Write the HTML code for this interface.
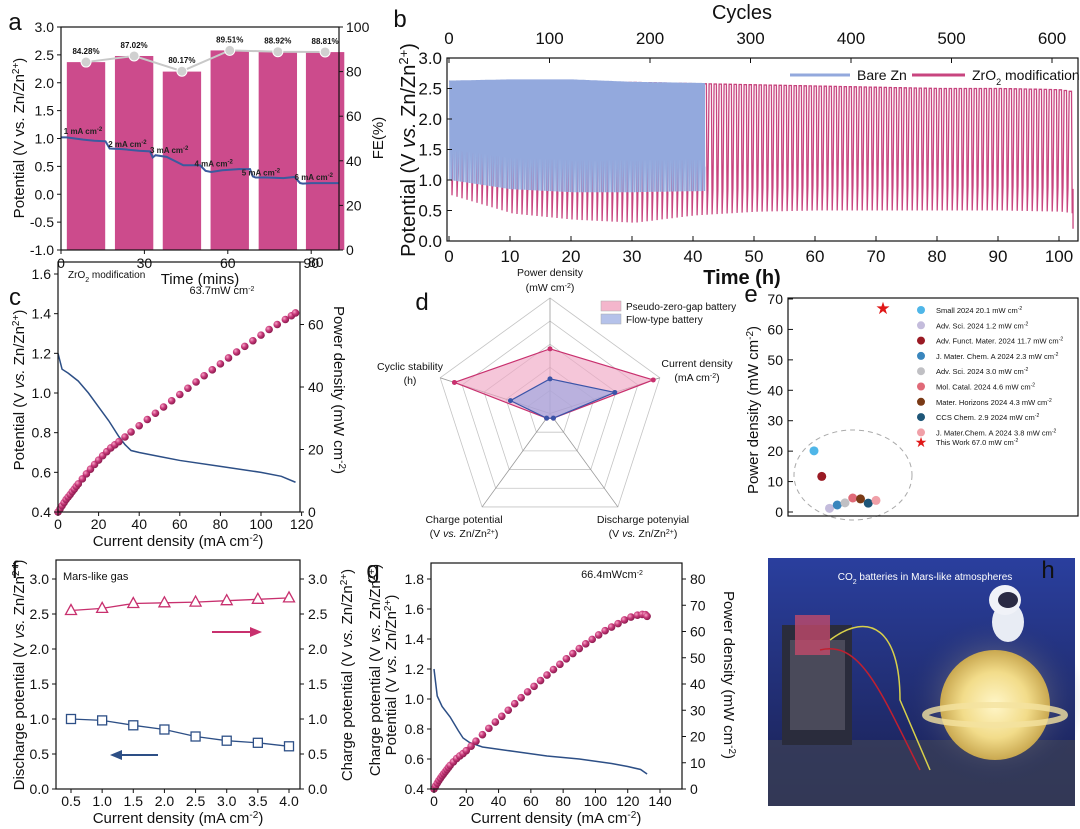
<!DOCTYPE html>
<html><head><meta charset="utf-8"><style>
body{margin:0;background:#fff;}
svg{display:block;font-family:"Liberation Sans",Arial,sans-serif;}
</style></head><body>
<svg id="fig" width="1080" height="829" viewBox="0 0 1080 829" xmlns="http://www.w3.org/2000/svg">
<defs>
<radialGradient id="sph" cx="35%" cy="35%" r="65%"><stop offset="0" stop-color="#f7a6c8"/><stop offset="0.5" stop-color="#c8397a"/><stop offset="1" stop-color="#8e1c50"/></radialGradient>
<radialGradient id="glow" cx="50%" cy="50%" r="50%"><stop offset="0" stop-color="#fff6c8"/><stop offset="0.6" stop-color="#f2dc8a"/><stop offset="1" stop-color="#c9a850"/></radialGradient>
<radialGradient id="halo" cx="50%" cy="50%" r="50%"><stop offset="0" stop-color="#ffe9a0" stop-opacity="0.7"/><stop offset="1" stop-color="#1c2a6a" stop-opacity="0"/></radialGradient>
<linearGradient id="bg" x1="0" y1="0" x2="0" y2="1"><stop offset="0" stop-color="#2a3f9e"/><stop offset="1" stop-color="#1a2050"/></linearGradient>
</defs>
</svg>
<script>
const NS='http://www.w3.org/2000/svg';
const svg=document.getElementById('fig');
function mk(tag,a,p){const e=document.createElementNS(NS,tag);for(const k in a)e.setAttribute(k,a[k]);(p||svg).appendChild(e);return e;}
function tx(s,x,y,size,anchor,p,extra){const e=mk('text',Object.assign({x:x,y:y,'font-size':size,'text-anchor':anchor||'middle',fill:'#111'},extra||{}),p);e.innerHTML=s;return e;}
function lin(d0,d1,r0,r1){return v=>r0+(v-d0)*(r1-r0)/(d1-d0);}

/* ---------- Panel a data ---------- */
const aBarTime=[9,26.3,43.5,60.7,78,95];
const aBarPot=[2.37,2.48,2.2,2.58,2.55,2.55];
const aFE=[84.28,87.02,80.17,89.51,88.92,88.81];
const aFELabels=['84.28%','87.02%','80.17%','89.51%','88.92%','88.81%'];
const aLineT=[0,2,8,12,16,17.5,22,28,32,33,34,38,44,50,52,54,58,64,68,69,70,74,80,84,86,87,90,100];
const aLineV=[1.02,1.02,0.98,0.96,0.95,0.82,0.81,0.78,0.77,0.66,0.70,0.67,0.52,0.52,0.42,0.40,0.43,0.45,0.45,0.32,0.30,0.30,0.29,0.31,0.20,0.19,0.20,0.20];
const aCurLabels=['1 mA cm<tspan baseline-shift="super" font-size="6">-2</tspan>','2 mA cm<tspan baseline-shift="super" font-size="6">-2</tspan>','3 mA cm<tspan baseline-shift="super" font-size="6">-2</tspan>','4 mA cm<tspan baseline-shift="super" font-size="6">-2</tspan>','5 mA cm<tspan baseline-shift="super" font-size="6">-2</tspan>','6 mA cm<tspan baseline-shift="super" font-size="6">-2</tspan>'];
const aCurLabelPos=[[1,1.08],[17,0.85],[32,0.74],[48,0.5],[65,0.34],[84,0.26]];
{
 const g=mk('g',{});
 
 
 const X=lin(0,100,61,339),Y=lin(-1,3,250,27),YR=lin(0,100,250,27);
 aBarTime.forEach((t,i)=>{const b=mk('rect',{x:X(t-6.9),y:Y(aBarPot[i]),width:X(13.8)-X(0),height:Y(-1)-Y(aBarPot[i]),fill:'#cc4b8c'},g);
  
  });
 const pl=mk('path',{d:aLineT.map((t,i)=>(i?'L':'M')+X(t)+','+Y(aLineV[i])).join(''),fill:'none',stroke:'#3b5a9e','stroke-width':2},g);
 
 
 const fl=mk('path',{d:aBarTime.map((t,i)=>(i?'L':'M')+X(t)+','+YR(aFE[i])).join(''),fill:'none',stroke:'#c8c8c8','stroke-width':2},g);
 
 
 aBarTime.forEach((t,i)=>{const c=mk('circle',{cx:X(t),cy:YR(aFE[i]),r:5,fill:'#d0d0d0',stroke:'#fff','stroke-width':1},g);
  
  
  tx(aFELabels[i],X(t),YR(aFE[i])-8,8,'middle',g,{'font-weight':'bold'});});
 aCurLabels.forEach((s,i)=>tx(s,X(aCurLabelPos[i][0]),Y(aCurLabelPos[i][1]),8,'start',g,{'font-weight':'bold',fill:'#222'}));
 mk('rect',{x:61,y:27,width:278,height:223,fill:'none',stroke:'#111','stroke-width':1.2},g);
 for(let v=-1;v<=3.001;v+=0.5){mk('line',{x1:57,x2:61,y1:Y(v),y2:Y(v),stroke:'#111'},g);tx(v.toFixed(1),54,Y(v)+5,14,'end',g);}
 for(let v=0;v<=100;v+=20){mk('line',{x1:339,x2:343,y1:YR(v),y2:YR(v),stroke:'#111'},g);tx(v,346,YR(v)+5,14,'start',g);}
 [0,30,60,90].forEach(v=>{mk('line',{x1:X(v),x2:X(v),y1:250,y2:254,stroke:'#111'},g);tx(v,X(v),268,14,'middle',g);});
 tx('Time (mins)',200,284,15,'middle',g);
 tx('Potential (V vs. Zn/Zn<tspan baseline-shift="super" font-size="10">2+</tspan>)',0,0,15,'middle',g,{transform:'translate(24,138) rotate(-90)'});
 tx('FE(%)',0,0,15,'middle',g,{transform:'translate(383,138) rotate(-90)'});
 tx('a',15,30,24,'middle',g);
}

/* ---------- Panel b data ---------- */
const bHours=[0,10,20,30,40,50,60,70,80,90,100,102];
const bPinkLow=[0.75,0.45,0.35,0.30,0.42,0.48,0.50,0.50,0.50,0.50,0.48,0.45];
const bPinkHigh=[2.62,2.62,2.60,2.60,2.58,2.56,2.54,2.52,2.50,2.50,2.48,2.45];
const bBlueHours=[0,10,20,30,42];
const bBlueLow=[1.0,0.85,0.80,0.80,0.82];
const bBlueHigh=[2.62,2.64,2.64,2.60,2.58];
{
 const g=mk('g',{});
 
 
 const X=lin(0,100,449,1059),Y=lin(0,3,241,58),XC=lin(0,600,449,1052);
 function env(hs,vs,t){for(let i=1;i<hs.length;i++){if(t<=hs[i]){const f=(t-hs[i-1])/(hs[i]-hs[i-1]);return vs[i-1]+f*(vs[i]-vs[i-1]);}}return vs[vs.length-1];}
 function osc(hs,lo,hi,tEnd,per){let d='';for(let t=0;t<tEnd;t+=per){d+=(t?'L':'M')+X(t).toFixed(1)+','+Y(env(hs,hi,t)).toFixed(1)+'L'+X(t+per*0.45).toFixed(1)+','+Y(env(hs,hi,t)).toFixed(1)+'L'+X(t+per*0.6).toFixed(1)+','+Y(env(hs,lo,t)).toFixed(1)+'L'+X(t+per*0.75).toFixed(1)+','+Y(env(hs,lo,t)+0.4).toFixed(1);}return d;}
 const pk=mk('path',{d:osc(bHours,bPinkLow,bPinkHigh,102,0.82)+'L'+X(102.3)+','+Y(0.2),fill:'none',stroke:'#c8457f','stroke-width':1.3},g);
 
 
 const bl=mk('path',{d:osc(bBlueHours,bBlueLow,bBlueHigh,42,0.25),fill:'none',stroke:'#93a9dd','stroke-width':1.2},g);
 
 
 mk('rect',{x:447,y:58,width:631,height:183,fill:'none',stroke:'#111','stroke-width':1.2},g);
 for(let v=0;v<=3.001;v+=0.5){mk('line',{x1:447,x2:452,y1:Y(v),y2:Y(v),stroke:'#111'},g);tx(v.toFixed(1),442,Y(v)+6,17,'end',g);}
 for(let v=0;v<=100;v+=10){mk('line',{x1:X(v),x2:X(v),y1:241,y2:236,stroke:'#111'},g);tx(v,X(v),262,17,'middle',g);}
 for(let v=0;v<=600;v+=100){mk('line',{x1:XC(v),x2:XC(v),y1:58,y2:63,stroke:'#111'},g);tx(v,XC(v),44,17,'middle',g);}
 tx('Cycles',742,19,20,'middle',g);
 tx('Time (h)',742,284,20,'middle',g,{'font-weight':'bold'});
 tx('Potential (V <tspan font-style="italic">vs.</tspan> Zn/Zn<tspan baseline-shift="super" font-size="13">2+</tspan>)',0,0,20,'middle',g,{transform:'translate(415,150) rotate(-90)'});
 mk('line',{x1:790,x2:850,y1:75,y2:75,stroke:'#93a9dd','stroke-width':3},g);tx('Bare Zn',857,80,14,'start',g);
 mk('line',{x1:912,x2:965,y1:75,y2:75,stroke:'#c8457f','stroke-width':3},g);tx('ZrO<tspan baseline-shift="sub" font-size="9">2</tspan> modification',972,80,14,'start',g);
 tx('b',400,27,24,'middle',g);
}

/* ---------- Panel c data ---------- */
const cJ=[0,1,2,3,4,5,6,7,8,9,10,12,14,16,18,20,22,24,26,28,30,33,36,40,44,48,52,56,60,64,68,72,76,80,84,88,92,96,100,104,108,112,115,117];
const cP=[0,1,2,3,4,4.8,5.6,6.5,7.3,8.2,9,10.6,12.2,13.7,15.2,16.6,18,19.3,20.5,21.5,22.5,24,25.6,27.6,29.6,31.6,33.6,35.6,37.6,39.6,41.6,43.6,45.5,47.4,49.3,51.2,53,54.8,56.6,58.4,60,61.6,62.8,63.7];
const cVJ=[0,2,5,10,15,20,25,30,33,36,40,50,60,80,100,110,117];
const cV=[1.2,1.12,1.1,1.06,1.0,0.93,0.86,0.78,0.74,0.71,0.70,0.68,0.66,0.63,0.60,0.58,0.55];
{
 const g=mk('g',{});
 
 
 const X=lin(0,100,58,261),Y=lin(0.4,1.6,512,274),YR=lin(0,80,512,262);
 const vl=mk('path',{d:cVJ.map((j,i)=>(i?'L':'M')+X(j)+','+Y(cV[i])).join(''),fill:'none',stroke:'#2d4f86','stroke-width':1.5},g);
 
 
 cJ.forEach((j,i)=>{const c=mk('circle',{cx:X(j),cy:YR(cP[i]),r:3.8,fill:'url(#sph)'},g);
  
  });
 mk('rect',{x:58,y:262,width:242,height:250,fill:'none',stroke:'#111','stroke-width':1.2},g);
 for(let v=0.4;v<=1.601;v+=0.2){mk('line',{x1:54,x2:58,y1:Y(v),y2:Y(v),stroke:'#111'},g);tx(v.toFixed(1),51,Y(v)+5,14,'end',g);}
 for(let v=0;v<=80;v+=20){mk('line',{x1:300,x2:304,y1:YR(v),y2:YR(v),stroke:'#111'},g);tx(v,308,YR(v)+5,14,'start',g);}
 for(let v=0;v<=120;v+=20){mk('line',{x1:X(v),x2:X(v),y1:512,y2:516,stroke:'#111'},g);tx(v,X(v),529,14,'middle',g);}
 tx('Current density (mA cm<tspan baseline-shift="super" font-size="10">-2</tspan>)',178,546,15,'middle',g);
 tx('Potential (V <tspan font-style="italic">vs.</tspan> Zn/Zn<tspan baseline-shift="super" font-size="10">2+</tspan>)',0,0,15,'middle',g,{transform:'translate(24,390) rotate(-90)'});
 tx('Power density (mW cm<tspan baseline-shift="super" font-size="10">-2</tspan>)',0,0,15,'middle',g,{transform:'translate(334,390) rotate(90)'});
 tx('ZrO<tspan baseline-shift="sub" font-size="7">2</tspan> modification',68,278,10,'start',g);
 tx('63.7mW cm<tspan baseline-shift="super" font-size="7">-2</tspan>',222,294,11,'middle',g);
 tx('c',15,305,24,'middle',g);
}

/* ---------- Panel d data ---------- */
const dAxes=['Power density','Current density','Discharge potenyial','Charge potential','Cyclic stability'];
const dPseudo=[0.56,0.94,0.05,0.05,0.87];
const dFlow=[0.30,0.59,0.05,0.05,0.36];
{
 const g=mk('g',{});
 
 
 const cx=550,cy=413.5,R=115.5;
 const pt=(i,f)=>{const a=-Math.PI/2+i*2*Math.PI/5;return [cx+R*f*Math.cos(a),cy+R*f*Math.sin(a)];};
 [0.2,0.4,0.6,0.8,1].forEach(f=>mk('polygon',{points:[0,1,2,3,4].map(i=>pt(i,f).join(',')).join(' '),fill:'none',stroke:'#c4c4c4','stroke-width':0.8},g));
 [0,1,2,3,4].forEach(i=>{const p=pt(i,1);mk('line',{x1:cx,y1:cy,x2:p[0],y2:p[1],stroke:'#999','stroke-width':0.8},g);});
 [[dPseudo,'#f0a8c4','#c8306e','pseudo-zero-gap-area'],[dFlow,'#9aa6e0','#3a54a8','flow-type-area']].forEach(s=>{
  const pts=s[0].map((v,i)=>pt(i,v));
  const pg=mk('polygon',{points:pts.map(p=>p.join(',')).join(' '),fill:s[1],'fill-opacity':0.65,stroke:s[2],'stroke-width':1.2},g);
  
  
  pts.forEach(p=>mk('circle',{cx:p[0],cy:p[1],r:2.5,fill:s[2]},g));});
 tx('Power density',550,276,10.5,'middle',g);tx('(mW cm<tspan baseline-shift="super" font-size="7">-2</tspan>)',550,291,10.5,'middle',g);
 tx('Current density',697,367,10.5,'middle',g);tx('(mA cm<tspan baseline-shift="super" font-size="7">-2</tspan>)',697,381,10.5,'middle',g);
 tx('Cyclic stability',410,370,10.5,'middle',g);tx('(h)',410,384,10.5,'middle',g);
 tx('Charge potential',464,523,10.5,'middle',g);tx('(V <tspan font-style="italic">vs.</tspan> Zn/Zn<tspan baseline-shift="super" font-size="7">2+</tspan>)',464,537,10.5,'middle',g);
 tx('Discharge potenyial',643,523,10.5,'middle',g);tx('(V <tspan font-style="italic">vs.</tspan> Zn/Zn<tspan baseline-shift="super" font-size="7">2+</tspan>)',643,537,10.5,'middle',g);
 mk('rect',{x:601,y:301,width:20,height:10,fill:'#f4b6cc',stroke:'#aaa','stroke-width':0.5},g);tx('Pseudo-zero-gap battery',626,310,10,'start',g);
 mk('rect',{x:601,y:314,width:20,height:10,fill:'#b5c2ea',stroke:'#aaa','stroke-width':0.5},g);tx('Flow-type battery',626,323,10,'start',g);
 tx('d',422,310,24,'middle',g);
}

/* ---------- Panel e data ---------- */
const eNames=['Small 2024  20.1 mW cm<tspan baseline-shift="super" font-size="5">-2</tspan>','Adv. Sci. 2024  1.2 mW cm<tspan baseline-shift="super" font-size="5">-2</tspan>','Adv. Funct. Mater. 2024 11.7 mW cm<tspan baseline-shift="super" font-size="5">-2</tspan>','J. Mater. Chem. A 2024 2.3 mW cm<tspan baseline-shift="super" font-size="5">-2</tspan>','Adv. Sci. 2024 3.0 mW cm<tspan baseline-shift="super" font-size="5">-2</tspan>','Mol. Catal. 2024 4.6 mW cm<tspan baseline-shift="super" font-size="5">-2</tspan>','Mater. Horizons 2024 4.3 mW cm<tspan baseline-shift="super" font-size="5">-2</tspan>','CCS Chem. 2.9 2024 mW cm<tspan baseline-shift="super" font-size="5">-2</tspan>','J. Mater.Chem. A 2024 3.8 mW cm<tspan baseline-shift="super" font-size="5">-2</tspan>'];
const eValues=[20.1,1.2,11.7,2.3,3.0,4.6,4.3,2.9,3.8];
const eXpos=[1,3,2,4,5,6,7,8,9];
const eColors=['#4fb6e8','#c4bcdc','#9a1a24','#3a86bd','#c0c0c4','#e06a78','#7a3a16','#1e5678','#f0a0a8'];
const eStarValue=67.0;
{
 const g=mk('g',{});
 
 
 const X=lin(1,9,814,876),Y=lin(0,70,512,299);
 mk('ellipse',{cx:853,cy:475,rx:59,ry:45,fill:'none',stroke:'#aaa','stroke-dasharray':'5,4'},g);
 eValues.forEach((v,i)=>{const c=mk('circle',{cx:X(eXpos[i]),cy:Y(v),r:4.5,fill:eColors[i]},g);
  
  
  mk('circle',{cx:921,cy:310+i*15.3,r:4,fill:eColors[i]},g);
  tx(eNames[i],936,313+i*15.3,7.5,'start',g);});
 const st=mk('text',{x:883,y:Y(eStarValue)+6,'font-size':17,'text-anchor':'middle',fill:'#e01818'},g);st.textContent='★';
 
 
 const ls=mk('text',{x:921,y:447,'font-size':14,'text-anchor':'middle',fill:'#e01818'},g);ls.textContent='★';
 tx('This Work 67.0 mW cm<tspan baseline-shift="super" font-size="5">-2</tspan>',936,445,7.5,'start',g);
 mk('rect',{x:788,y:298,width:290,height:218,fill:'none',stroke:'#111','stroke-width':1.2},g);
 for(let v=0;v<=70;v+=10){mk('line',{x1:788,x2:793,y1:Y(v),y2:Y(v),stroke:'#111'},g);tx(v,783,Y(v)+5,14,'end',g);}
 tx('Power density (mW cm<tspan baseline-shift="super" font-size="10">-2</tspan>)',0,0,15,'middle',g,{transform:'translate(758,410) rotate(-90)'});
 tx('e',751,302,24,'middle',g);
}

/* ---------- Panel f data ---------- */
const fJ=[0.5,1.0,1.5,2.0,2.5,3.0,3.5,4.0];
const fCharge=[2.55,2.58,2.65,2.66,2.67,2.69,2.71,2.73];
const fDischarge=[1.0,0.98,0.91,0.85,0.75,0.69,0.66,0.61];
{
 const g=mk('g',{});
 
 
 const X=lin(0.5,4,71,289),Y=lin(0,3,789,579);
 const tl=mk('path',{d:fJ.map((j,i)=>(i?'L':'M')+X(j)+','+Y(fCharge[i])).join(''),fill:'none',stroke:'#c8306e','stroke-width':1.3},g);
 
 
 const sl=mk('path',{d:fJ.map((j,i)=>(i?'L':'M')+X(j)+','+Y(fDischarge[i])).join(''),fill:'none',stroke:'#2d4f86','stroke-width':1.3},g);
 
 
 fJ.forEach((j,i)=>{const x=X(j),y=Y(fCharge[i]);
  const t=mk('polygon',{points:`${x},${y-6} ${x-5.5},${y+4} ${x+5.5},${y+4}`,fill:'#fff',stroke:'#c8306e','stroke-width':1.3},g);
  
  
  const s=mk('rect',{x:x-4.5,y:Y(fDischarge[i])-4.5,width:9,height:9,fill:'#fff',stroke:'#2d4f86','stroke-width':1.3},g);
  
  });
 mk('line',{x1:212,x2:258,y1:632,y2:632,stroke:'#c8306e','stroke-width':2},g);mk('polygon',{points:'262,632 250,627 250,637',fill:'#c8306e'},g);
 mk('line',{x1:115,x2:158,y1:755,y2:755,stroke:'#2d4f86','stroke-width':2},g);mk('polygon',{points:'110,755 122,750 122,760',fill:'#2d4f86'},g);
 mk('rect',{x:56,y:560,width:244,height:229,fill:'none',stroke:'#111','stroke-width':1.2},g);
 for(let v=0;v<=3.001;v+=0.5){mk('line',{x1:52,x2:56,y1:Y(v),y2:Y(v),stroke:'#111'},g);tx(v.toFixed(1),49,Y(v)+5,14,'end',g);
  mk('line',{x1:300,x2:304,y1:Y(v),y2:Y(v),stroke:'#111'},g);tx(v.toFixed(1),308,Y(v)+5,14,'start',g);}
 fJ.forEach(v=>{mk('line',{x1:X(v),x2:X(v),y1:789,y2:793,stroke:'#111'},g);tx(v.toFixed(1),X(v),806,14,'middle',g);});
 tx('Current density (mA cm<tspan baseline-shift="super" font-size="10">-2</tspan>)',178,823,15,'middle',g);
 tx('Discharge potential (V <tspan font-style="italic">vs.</tspan> Zn/Zn<tspan baseline-shift="super" font-size="10">2+</tspan>)',0,0,15,'middle',g,{transform:'translate(24,675) rotate(-90)'});
 tx('Charge potential (V <tspan font-style="italic">vs.</tspan> Zn/Zn<tspan baseline-shift="super" font-size="10">2+</tspan>)',0,0,15,'middle',g,{transform:'translate(352,675) rotate(-90)'});
 tx('Mars-like gas',63,580,11,'start',g);
 tx('f',15,578,24,'middle',g);
}

/* ---------- Panel g data ---------- */
const gJ=[0,1,2,3,4,5,6,7,8,9,10,12,14,16,18,20,23,26,30,34,38,42,46,50,54,58,62,66,70,74,78,82,86,90,94,98,102,106,110,114,118,122,126,129,131,132];
const gP=[0,1.15,2.2,3.2,4.1,5,5.8,6.6,7.4,8.2,9,10.3,11.6,12.6,13.5,14.6,16.3,18.2,20.7,23.1,25.5,27.7,30,32.5,34.8,37,39.1,41.3,43.4,45.5,47.5,49.6,51.6,53.5,55.3,57,58.7,60.3,61.7,63,64.4,65.5,66.2,66.5,66.4,65.8];
const gVJ=[0,2,5,10,15,18,22,30,50,70,90,110,120,128,132];
const gV=[1.2,1.02,0.95,0.88,0.79,0.74,0.71,0.68,0.65,0.62,0.60,0.57,0.55,0.53,0.50];
{
 const g=mk('g',{});
 
 
 const X=lin(0,140,434,660),Y=lin(0.4,1.8,789,579),YR=lin(0,80,789,579);
 const vl=mk('path',{d:gVJ.map((j,i)=>(i?'L':'M')+X(j)+','+Y(gV[i])).join(''),fill:'none',stroke:'#2d4f86','stroke-width':1.5},g);
 
 
 gJ.forEach((j,i)=>{const c=mk('circle',{cx:X(j),cy:YR(gP[i]),r:3.8,fill:'url(#sph)'},g);
  
  });
 mk('rect',{x:431,y:563,width:251,height:226,fill:'none',stroke:'#111','stroke-width':1.2},g);
 for(let v=0.4;v<=1.801;v+=0.2){mk('line',{x1:427,x2:431,y1:Y(v),y2:Y(v),stroke:'#111'},g);tx(v.toFixed(1),424,Y(v)+5,14,'end',g);}
 for(let v=0;v<=80;v+=10){mk('line',{x1:682,x2:686,y1:YR(v),y2:YR(v),stroke:'#111'},g);tx(v,690,YR(v)+5,14,'start',g);}
 for(let v=0;v<=140;v+=20){mk('line',{x1:X(v),x2:X(v),y1:789,y2:793,stroke:'#111'},g);tx(v,X(v),806,14,'middle',g);}
 tx('Current density (mA cm<tspan baseline-shift="super" font-size="10">-2</tspan>)',556,823,15,'middle',g);
 tx('Charge potential (V <tspan font-style="italic">vs.</tspan> Zn/Zn<tspan baseline-shift="super" font-size="10">2+</tspan>)',0,0,15,'middle',g,{transform:'translate(380,670) rotate(-90)'});
 tx('Potential (V <tspan font-style="italic">vs.</tspan> Zn/Zn<tspan baseline-shift="super" font-size="10">2+</tspan>)',0,0,15,'middle',g,{transform:'translate(396,675) rotate(-90)'});
 tx('Power density (mW cm<tspan baseline-shift="super" font-size="10">-2</tspan>)',0,0,15,'middle',g,{transform:'translate(724,675) rotate(90)'});
 tx('66.4mWcm<tspan baseline-shift="super" font-size="7">-2</tspan>',612,578,11,'middle',g);
 tx('g',373,578,24,'middle',g);
}

/* ---------- Panel h photo ---------- */
{
 const g=mk('g',{});
 
 
 mk('rect',{x:768,y:558,width:307,height:248,fill:'url(#bg)'},g);
 mk('rect',{x:768,y:740,width:307,height:66,fill:'#3a3e58','opacity':0.8},g);
 mk('ellipse',{cx:995,cy:700,rx:90,ry:85,fill:'url(#halo)'},g);
 mk('circle',{cx:995,cy:705,r:55,fill:'url(#glow)'},g);
 mk('ellipse',{cx:995,cy:715,rx:70,ry:10,fill:'none',stroke:'#f4e2a0','stroke-width':6,opacity:0.8},g);
 mk('ellipse',{cx:1008,cy:622,rx:16,ry:20,fill:'#e8ecf4'},g);
 mk('ellipse',{cx:1005,cy:600,rx:16,ry:15,fill:'#f0f2f8'},g);
 mk('ellipse',{cx:1008,cy:600,rx:10,ry:8,fill:'#2a2a44'},g);
 mk('rect',{x:782,y:625,width:70,height:120,fill:'#2a2c3c'},g);
 mk('rect',{x:790,y:640,width:55,height:90,fill:'#4a4a5a'},g);
 mk('rect',{x:795,y:615,width:35,height:40,fill:'#c04a6a',opacity:0.8},g);
 mk('path',{d:'M830,640 C870,610 900,630 900,700 L930,770',fill:'none',stroke:'#d8d04a','stroke-width':1.5},g);
 mk('path',{d:'M820,650 C860,640 880,690 920,770',fill:'none',stroke:'#c02030','stroke-width':1.5},g);
 tx('CO<tspan baseline-shift="sub" font-size="7">2</tspan> batteries in Mars-like atmospheres',925,580,10,'middle',g,{fill:'#fff'});
 tx('h',1048,578,24,'middle',g);
}
</script>
</body></html>
